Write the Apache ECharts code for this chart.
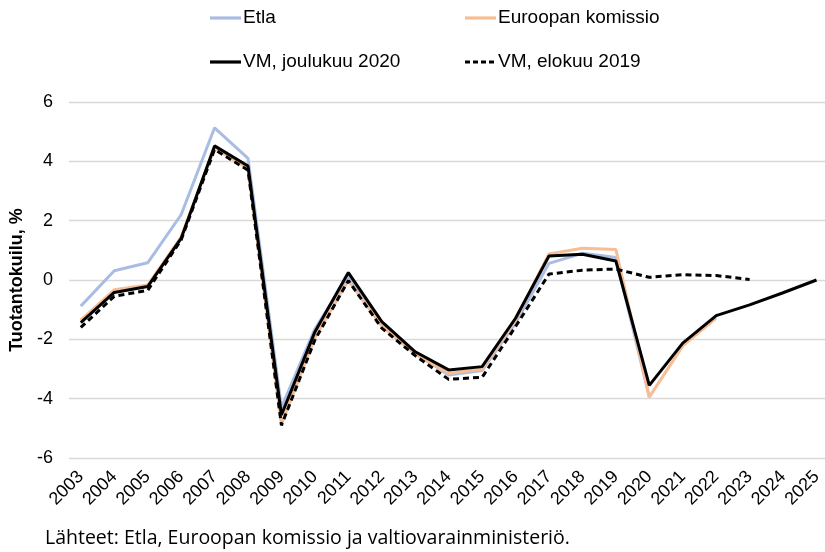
<!DOCTYPE html>
<html>
<head>
<meta charset="utf-8">
<script src="https://cdn.jsdelivr.net/npm/echarts@6/dist/echarts.min.js"></script>
<style>
html,body{margin:0;padding:0;background:#fff;}
#chart{width:825px;height:552px;}
</style>
</head>
<body>
<div id="chart"></div>
<script>
var years = ['2003','2004','2005','2006','2007','2008','2009','2010','2011','2012','2013','2014','2015','2016','2017','2018','2019','2020','2021','2022','2023','2024','2025'];
var etla = [-0.88,0.31,0.58,2.2,5.13,4.1,-4.3,-1.65,0.13,-1.45,-2.45,-3.2,-3.05,-1.45,0.56,0.9,0.76,-3.95,null,null,null,null,null];
var komissio = [-1.35,-0.33,-0.17,1.45,4.45,3.76,-4.85,-1.95,-0.02,-1.55,-2.5,-3.15,-3.0,-1.35,0.88,1.07,1.03,-3.95,-2.22,-1.28,null,null,null];
var vmJoulu = [-1.44,-0.42,-0.22,1.4,4.52,3.84,-4.55,-1.75,0.25,-1.4,-2.42,-3.03,-2.92,-1.29,0.81,0.87,0.64,-3.55,-2.13,-1.2,-0.84,-0.43,0.0];
var vmElo = [-1.6,-0.55,-0.35,1.35,4.4,3.7,-4.9,-2.02,-0.02,-1.62,-2.55,-3.35,-3.28,-1.57,0.2,0.33,0.37,0.09,0.18,0.15,0.02,null,null];
var names = ['Etla','Euroopan komissio','VM, joulukuu 2020','VM, elokuu 2019'];
var yTicks = {min:-6, max:6, interval:2};
var sourceText = 'Lähteet: Etla, Euroopan komissio ja valtiovarainministeriö.';

var colors = ['#a9bde4','#f7bd95','#000000','#000000'];
var dashes = [null,null,null,[5,3]];
var legendPos = [[210,18],[465,18],[210,62],[465,62]];
var graphics = [];
for (var i=0;i<4;i++){
  var p = legendPos[i];
  graphics.push({type:'line', shape:{x1:p[0], y1:p[1], x2:p[0]+31, y2:p[1]},
    style:{stroke:colors[i], lineWidth:3.2, lineDash:dashes[i]||null}});
  graphics.push({type:'text', x:p[0]+33, y:p[1], style:{text:names[i], fontFamily:'Liberation Sans, Arial', fontSize:19, fill:'#000', verticalAlign:'middle', align:'left'}});
}
graphics.push({type:'text', x:45, y:538, style:{text:sourceText, fontFamily:'Open Sans, Noto Sans', fontSize:19.5, fill:'#000', verticalAlign:'middle'}});

var chart = echarts.init(document.getElementById('chart'), null, {renderer:'canvas'});
chart.setOption({
  animation:false,
  backgroundColor:'#fff',
  grid:[{left:64, right:0, top:102, bottom:94, containLabel:false},
        {left:80.8, right:5.7, top:102, bottom:94, containLabel:false}],
  graphic:graphics,
  xAxis:[{gridIndex:0, type:'category', data:years, show:false},
    {gridIndex:1, type:'category', data:years, boundaryGap:false,
    axisLine:{show:false}, axisTick:{show:false}, splitLine:{show:false},
    axisLabel:{rotate:45, margin:16, interval:0, fontFamily:'Liberation Sans, Arial', fontSize:18, color:'#000'}}],
  yAxis:[{gridIndex:0, type:'value', min:yTicks.min, max:yTicks.max, interval:yTicks.interval,
    name:'Tuotantokuilu, %', nameLocation:'middle', nameGap:38, nameRotate:90,
    nameTextStyle:{fontFamily:'Liberation Sans, Arial', fontSize:18, fontWeight:'bold', color:'#000'},
    axisLine:{show:false}, axisTick:{show:false},
    axisLabel:{margin:16, fontFamily:'Liberation Sans, Arial', fontSize:18, color:'#000'},
    splitLine:{lineStyle:{color:'#d9d9d9', width:1.3}}},
    {gridIndex:1, type:'value', min:yTicks.min, max:yTicks.max, interval:yTicks.interval, show:false, splitLine:{show:false}}],
  series:[
    {name:names[0], type:'line', xAxisIndex:1, yAxisIndex:1, data:etla, symbol:'none', lineStyle:{color:colors[0], width:3}},
    {name:names[1], type:'line', xAxisIndex:1, yAxisIndex:1, data:komissio, symbol:'none', lineStyle:{color:colors[1], width:3}},
    {name:names[2], type:'line', xAxisIndex:1, yAxisIndex:1, data:vmJoulu, symbol:'none', lineStyle:{color:colors[2], width:3}},
    {name:names[3], type:'line', xAxisIndex:1, yAxisIndex:1, data:vmElo, symbol:'none', lineStyle:{color:colors[3], width:3, type:[6,4]}}
  ]
});
</script>
</body>
</html>
